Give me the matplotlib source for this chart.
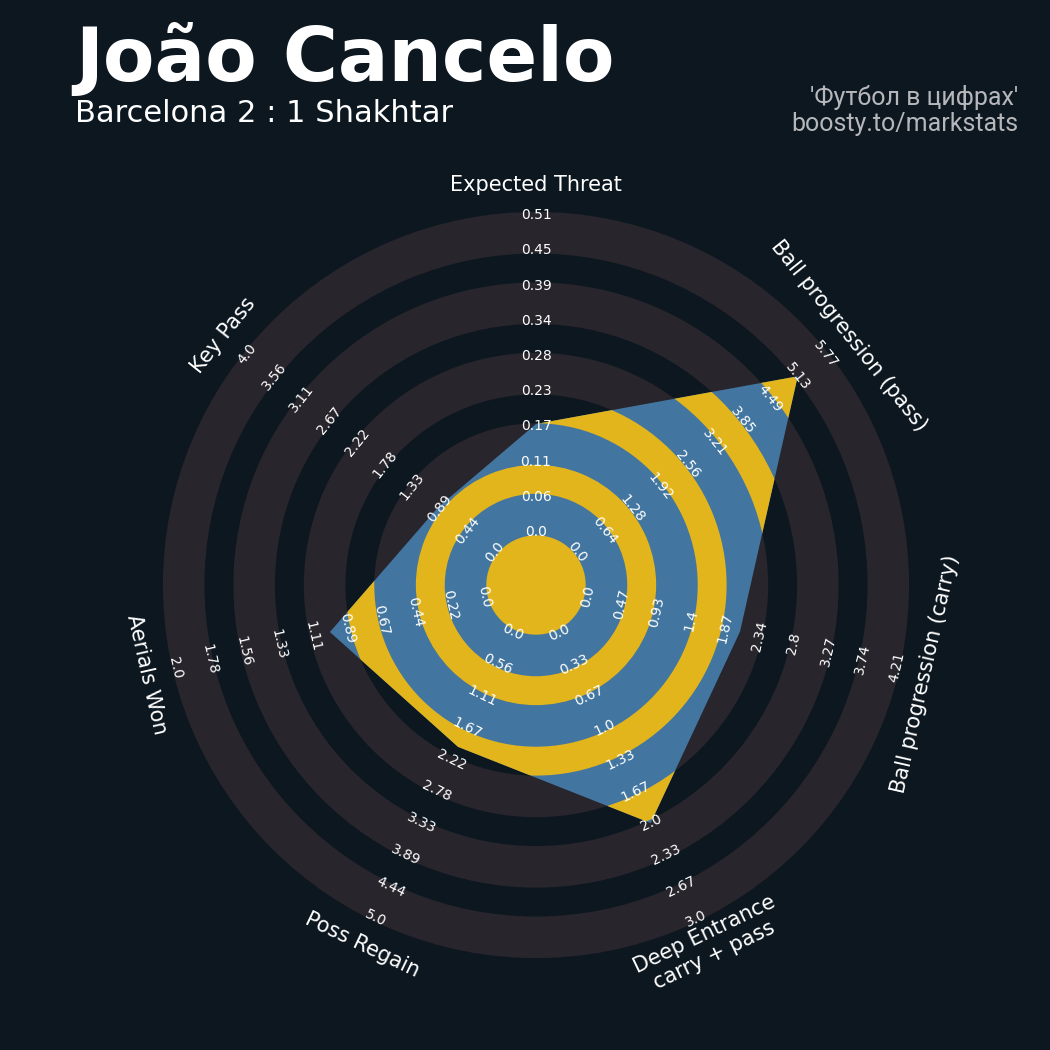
import numpy as np
import matplotlib
matplotlib.use('Agg')
import matplotlib.pyplot as plt
from matplotlib.patches import Wedge, Circle, Polygon

# ------------------------------------------------------------------------------
# data
# ------------------------------------------------------------------------------
params = ['Expected Threat', 'Ball progression (pass)', 'Ball progression (carry)',
          'Deep Entrance\ncarry + pass', 'Poss Regain', 'Aerials Won', 'Key Pass']
low = [0.0, 0.0, 0.0, 0.0, 0.0, 0.0, 0.0]
high = [0.507, 5.77, 4.206, 3.0, 5.0, 2.0, 4.0]
values = [0.173, 5.13, 2.075, 2.0, 2.0, 1.0, 0.91]

title = 'João Cancelo'
subtitle = 'Barcelona 2 : 1 Shakhtar'
credit = ["'Футбол в цифрах'", 'boosty.to/markstats']

# ------------------------------------------------------------------------------
# style
# ------------------------------------------------------------------------------
bg = '#0D1720'
ring_col = '#28252C'
blue = '#4276A0'
yellow = '#E3B51D'

center_r = 1.5     # radius of the centre circle
n_steps = 9        # label steps from centre circle to edge
edge = 0.09        # grey rings are a bit wider than one step
outer = center_r + n_steps

n = len(params)
angles = np.pi / 2 - 2 * np.pi / n * np.arange(n)


def text_rotation(a):
  rot = np.degrees(a) - 90
  rot = (rot + 180) % 360 - 180
  if rot > 90:
    rot -= 180
  elif rot < -90:
    rot += 180
  return rot


fig = plt.figure(figsize=(10.5, 10.5), dpi=100, facecolor=bg)
ax = fig.add_axes([78 / 1050, 7 / 1050, 916 / 1050, 916 / 1050])
ax.set_facecolor(bg)
ax.set_xlim(-13, 13)
ax.set_ylim(-13, 13)
ax.set_aspect('equal')
ax.axis('off')

# background rings
for k in range(0, n_steps, 2):
  r_in = center_r + k - edge
  r_out = center_r + k + 1 + edge
  ax.add_patch(Wedge((0, 0), r_out, 0, 360, width=r_out - r_in,
                     facecolor=ring_col, edgecolor='none', zorder=1))

# radar polygon
radius = [center_r + (v - lo) / (hi - lo) * n_steps for v, lo, hi in zip(values, low, high)]
verts = np.column_stack([np.array(radius) * np.cos(angles), np.array(radius) * np.sin(angles)])
poly = Polygon(verts, closed=True, facecolor=blue, edgecolor='none', zorder=2)
ax.add_patch(poly)

# yellow rings clipped by the polygon
inner = Circle((0, 0), center_r - edge, facecolor=yellow, edgecolor='none', zorder=3)
ax.add_patch(inner)
inner.set_clip_path(poly)
for k in range(1, n_steps, 2):
  r_in = center_r + k + edge
  r_out = center_r + k + 1 - edge
  w = Wedge((0, 0), r_out, 0, 360, width=r_out - r_in,
            facecolor=yellow, edgecolor='none', zorder=3)
  ax.add_patch(w)
  w.set_clip_path(poly)

# range labels
for i in range(n):
  rot = text_rotation(angles[i])
  labels = np.linspace(low[i], high[i], n_steps + 1)
  for k, lab in enumerate(labels):
    r = center_r + k
    ax.text(r * np.cos(angles[i]), r * np.sin(angles[i]), str(round(float(lab), 2)),
            rotation=rot, rotation_mode='anchor', ha='center', va='center',
            fontsize=10, color='white', zorder=4)

# parameter labels
for i in range(n):
  r = 11.35
  ax.text(r * np.cos(angles[i]), r * np.sin(angles[i]), params[i],
          rotation=text_rotation(angles[i]), rotation_mode='anchor',
          ha='center', va='center', multialignment='center',
          fontsize=15, color='white', zorder=4)

# titles
fig.text(75 / 1050, 1 - 81 / 1050, title, fontsize=54, fontweight='bold',
         color='white', va='baseline')
fig.text(75 / 1050, 1 - 122 / 1050, subtitle, fontsize=22, color='white', va='baseline')
fig.text(1018 / 1050, 1 - 105 / 1050, credit[0], fontsize=18, family=['Roboto', 'DejaVu Sans'],
         color='#B5B7BA', ha='right', va='baseline')
fig.text(1018 / 1050, 1 - 131 / 1050, credit[1], fontsize=18, family=['Roboto', 'DejaVu Sans'],
         color='#B5B7BA', ha='right', va='baseline')

fig.savefig('out.png', dpi=100, facecolor=bg)
